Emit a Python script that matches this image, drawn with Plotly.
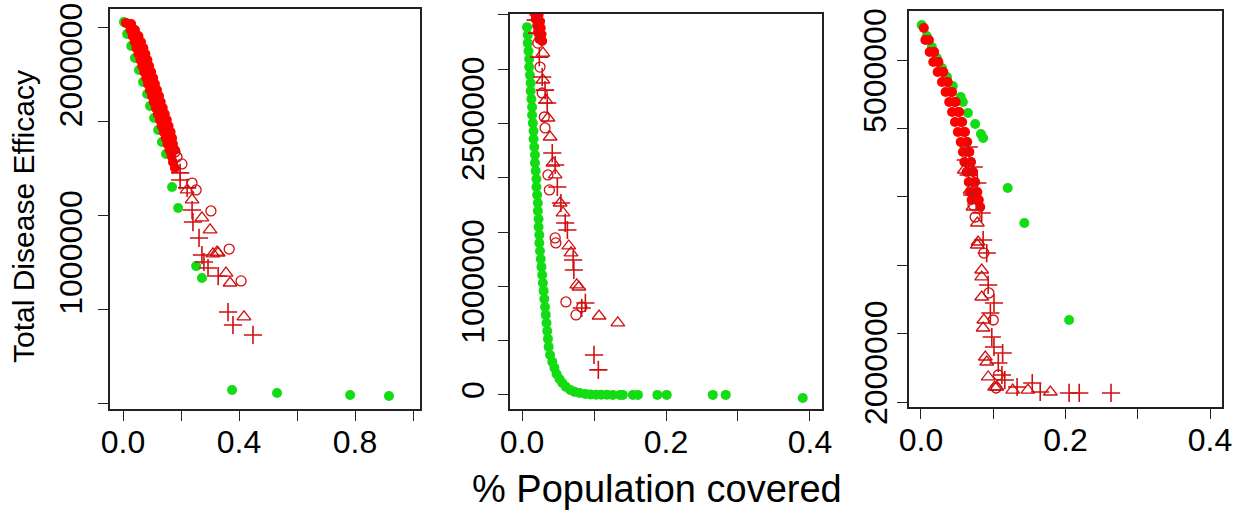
import plotly.graph_objects as go

# ---------------- Panel 1 data ----------------
p1_green_x = [0.003, 0.014, 0.028, 0.041, 0.055, 0.069, 0.083, 0.093, 0.107, 0.121, 0.134, 0.148,
              0.169, 0.190, 0.252, 0.272, 0.376, 0.531, 0.783, 0.917]
p1_green_y = [2532000, 2468000, 2404000, 2340000, 2276000, 2212000, 2148000, 2084000, 2020000, 1956000,
              1892000, 1828000, 1652000, 1540000, 1230000, 1167000, 569000, 553000, 543000, 537000]

p1_red_x = [0.010, 0.019, 0.026, 0.033, 0.040, 0.046, 0.053, 0.060, 0.066, 0.073, 0.080, 0.086, 0.093,
            0.100, 0.106, 0.113, 0.120, 0.127, 0.133, 0.140, 0.147, 0.153, 0.160, 0.167, 0.172, 0.179,
            0.028, 0.041, 0.053, 0.062, 0.070, 0.077, 0.084, 0.090, 0.097, 0.104, 0.110, 0.117, 0.124,
            0.130, 0.137, 0.144, 0.151, 0.157, 0.164, 0.169, 0.172, 0.179]
p1_red_y = [2527000, 2521000, 2489000, 2457000, 2425000, 2393000, 2361000, 2329000, 2297000, 2265000,
            2233000, 2201000, 2169000, 2137000, 2105000, 2073000, 2041000, 2009000, 1977000, 1945000,
            1913000, 1881000, 1849000, 1817000, 1785000, 1753000,
            2521000, 2489000, 2457000, 2425000, 2393000, 2361000, 2329000, 2297000, 2265000, 2233000,
            2201000, 2169000, 2137000, 2105000, 2073000, 2041000, 2009000, 1977000, 1945000, 1913000,
            1881000, 1849000]

p1_circ_x = [0.179, 0.186, 0.203, 0.238, 0.252, 0.303, 0.366, 0.407]
p1_circ_y = [1839000, 1812000, 1775000, 1673000, 1636000, 1524000, 1321000, 1151000]

p1_tri_x = [0.221, 0.238, 0.272, 0.300, 0.310, 0.324, 0.328, 0.355, 0.369, 0.417]
p1_tri_y = [1636000, 1583000, 1487000, 1423000, 1295000, 1305000, 1300000, 1193000, 1140000, 959000]

p1_cross_x = [0.197, 0.197, 0.221, 0.238, 0.241, 0.262, 0.272, 0.279, 0.293, 0.328, 0.362, 0.379, 0.448]
p1_cross_y = [1727000, 1689000, 1647000, 1529000, 1465000, 1380000, 1289000, 1252000, 1220000, 1177000,
              985000, 916000, 863000]

# ---------------- Panel 2 data ----------------
p2_green_x = [0.007, 0.008, 0.008, 0.009, 0.010, 0.010, 0.011, 0.012, 0.012, 0.013, 0.014, 0.014, 0.015,
              0.016, 0.016, 0.017, 0.018, 0.018, 0.019, 0.020, 0.020, 0.021, 0.022, 0.022, 0.023, 0.023,
              0.024, 0.024, 0.025, 0.026, 0.027, 0.028, 0.029, 0.030, 0.031, 0.032, 0.033, 0.034, 0.035,
              0.036, 0.037, 0.039, 0.042, 0.045, 0.048, 0.052, 0.056, 0.061, 0.067, 0.073, 0.080, 0.088,
              0.095, 0.103, 0.110, 0.118, 0.126, 0.136, 0.140, 0.154, 0.161, 0.188, 0.201, 0.265, 0.283, 0.390]
p2_green_y = [3388000, 3315000, 3241000, 3167000, 3094000, 3020000, 2946000, 2873000, 2799000, 2725000,
              2652000, 2578000, 2504000, 2431000, 2357000, 2284000, 2210000, 2136000, 2063000, 1989000,
              1915000, 1842000, 1768000, 1694000, 1621000, 1547000, 1473000, 1400000, 1326000, 1252000,
              1179000, 1105000, 1031000, 958000, 884000, 810000, 737000, 663000, 589000, 516000, 442000,
              368000, 304000, 249000, 193000, 147000, 110000, 74000, 46000, 28000, 18000, 9000, 4000,
              2000, 1000, 1000, 0, 0, 0, 0, 0, 0, 0, 0, 0, -28000]

p2_red_x = [0.015, 0.017, 0.019, 0.021, 0.022, 0.024, 0.021, 0.023, 0.025, 0.026, 0.027, 0.028]
p2_red_y = [3580000, 3520000, 3460000, 3400000, 3340000, 3280000, 3560000, 3500000, 3440000, 3380000,
            3320000, 3260000]

p2_circ_x = [0.022, 0.025, 0.028, 0.031, 0.032, 0.036, 0.038, 0.046, 0.047, 0.061, 0.075, 0.083]
p2_circ_y = [3241000, 3020000, 2781000, 2560000, 2459000, 2026000, 1888000, 1446000, 1400000, 856000,
             737000, 810000]

p2_tri_x = [0.029, 0.029, 0.033, 0.036, 0.039, 0.043, 0.046, 0.053, 0.057, 0.065, 0.068, 0.076, 0.079,
            0.107, 0.133]
p2_tri_y = [3149000, 2901000, 2716000, 2551000, 2376000, 2136000, 2026000, 1768000, 1676000, 1372000,
            1308000, 1013000, 994000, 727000, 663000]

p2_cross_x = [0.019, 0.021, 0.024, 0.028, 0.032, 0.035, 0.042, 0.046, 0.049, 0.054, 0.060, 0.063, 0.071,
              0.072, 0.088, 0.083, 0.100, 0.106]
p2_cross_y = [3453000, 3333000, 3112000, 2928000, 2808000, 2689000, 2228000, 2118000, 1915000, 1768000,
              1584000, 1519000, 1243000, 1151000, 847000, 801000, 368000, 230000]

# ---------------- Panel 3 data ----------------
p3_green_x = [0.001, 0.008, 0.015, 0.022, 0.029, 0.036, 0.044, 0.055, 0.058, 0.065, 0.075, 0.083, 0.086,
              0.120, 0.143, 0.205]
p3_green_y = [6512000, 6351000, 6190000, 6029000, 5883000, 5751000, 5620000, 5459000, 5386000, 5225000,
              5064000, 4918000, 4860000, 4129000, 3617000, 2199000]

p3_red_x = [0.004, 0.011, 0.018, 0.024, 0.031, 0.037, 0.043, 0.048, 0.053, 0.057, 0.061, 0.064, 0.067,
            0.069, 0.072, 0.074, 0.076, 0.078,
            0.006, 0.012, 0.017, 0.023, 0.029, 0.034, 0.039, 0.043, 0.047, 0.051, 0.055, 0.058, 0.060,
            0.063, 0.066, 0.068, 0.070,
            0.018, 0.024, 0.030, 0.036, 0.041, 0.046, 0.051, 0.055, 0.059, 0.063, 0.066, 0.069, 0.072,
            0.075, 0.078, 0.080, 0.082]
p3_red_y = [6468000, 6292000, 6117000, 5971000, 5825000, 5678000, 5532000, 5386000, 5240000, 5094000,
            4947000, 4801000, 4655000, 4509000, 4363000, 4216000, 4070000, 3953000,
            6292000, 6117000, 5971000, 5825000, 5678000, 5532000, 5386000, 5240000, 5094000, 4947000,
            4801000, 4655000, 4509000, 4363000, 4216000, 4070000, 3953000,
            6117000, 5971000, 5825000, 5678000, 5532000, 5386000, 5240000, 5094000, 4947000, 4801000,
            4655000, 4509000, 4363000, 4216000, 4070000, 3953000, 3850000]

p3_circ_x = [0.072, 0.075, 0.087, 0.094, 0.100, 0.107, 0.104]
p3_circ_y = [3880000, 3705000, 3178000, 2594000, 2199000, 1395000, 1205000]

p3_tri_x = [0.060, 0.068, 0.072, 0.078, 0.079, 0.078, 0.084, 0.084, 0.084, 0.087, 0.086, 0.089, 0.091,
            0.093, 0.102, 0.105, 0.127, 0.148, 0.179]
p3_tri_y = [4392000, 4099000, 3851000, 3617000, 3339000, 3295000, 2930000, 2828000, 2535000, 2199000,
            2082000, 1658000, 1585000, 1366000, 1219000, 1219000, 1175000, 1175000, 1146000]

p3_cross_x = [0.062, 0.066, 0.071, 0.066, 0.073, 0.078, 0.084, 0.086, 0.091, 0.093, 0.101, 0.096, 0.098,
              0.101, 0.113, 0.107, 0.112, 0.116, 0.133, 0.154, 0.165, 0.205, 0.219, 0.263]
p3_cross_y = [4538000, 4319000, 4026000, 4728000, 4436000, 4202000, 3763000, 3368000, 3178000, 2711000,
              2447000, 2301000, 1950000, 1804000, 1716000, 1570000, 1395000, 1322000, 1219000, 1278000,
              1146000, 1132000, 1132000, 1132000]

# tick values / labels
p1_xticks = [0.0, 0.2, 0.4, 0.6, 0.8, 1.0]
p1_xlabels = ["0.0", "", "0.4", "", "0.8", ""]
p23_xticks = [0.0, 0.1, 0.2, 0.3, 0.4]
p23_xlabels = ["0.0", "", "0.2", "", "0.4"]
p1_yticks = [500000, 1000000, 1500000, 2000000, 2500000]
p1_ylabels = ["", "1000000", "", "2000000", ""]
p2_yticks = [0, 500000, 1000000, 1500000, 2000000, 2500000, 3000000, 3500000]
p2_ylabels = ["0", "", "1000000", "", "", "2500000", "", ""]
p3_yticks = [1000000, 2000000, 3000000, 4000000, 5000000, 6000000]
p3_ylabels = ["", "", "", "", "5000000", ""]
p3_ylabel_low = [2000000]
p3_ylabel_low_text = ["2000000"]

GREEN = "#14dc14"
RED = "#ff0000"
DRED = "#d01010"
FONT = "Liberation Sans, Arial, sans-serif"

fig = go.Figure()

def add_panel(xa, ya, ya_top, gx, gy, rx, ry, cx, cy, tx, ty, px_, py_):
    fig.add_trace(go.Scatter(x=gx, y=gy, mode="markers", xaxis=xa, yaxis=ya,
                             marker=dict(color=GREEN, size=10, line=dict(width=0)), showlegend=False))
    fig.add_trace(go.Scatter(x=rx, y=ry, mode="markers", xaxis=xa, yaxis=ya,
                             marker=dict(color=RED, size=10, line=dict(width=0)), showlegend=False))
    fig.add_trace(go.Scatter(x=cx, y=cy, mode="markers", xaxis=xa, yaxis=ya,
                             marker=dict(symbol="circle-open", color=DRED, size=10, line=dict(width=1.3)),
                             showlegend=False))
    fig.add_trace(go.Scatter(x=tx, y=ty, mode="markers", xaxis=xa, yaxis=ya,
                             marker=dict(symbol="triangle-up-open", color=DRED, size=12, line=dict(width=1.3)),
                             showlegend=False))
    fig.add_trace(go.Scatter(x=px_, y=py_, mode="markers", xaxis=xa, yaxis=ya_top,
                             marker=dict(symbol="cross-thin-open", color=DRED, size=13, line=dict(width=1.6)),
                             showlegend=False))

add_panel("x", "y", "y", p1_green_x, p1_green_y, p1_red_x, p1_red_y, p1_circ_x, p1_circ_y,
          p1_tri_x, p1_tri_y, p1_cross_x, p1_cross_y)
add_panel("x2", "y2", "y2", p2_green_x, p2_green_y, p2_red_x, p2_red_y, p2_circ_x, p2_circ_y,
          p2_tri_x, p2_tri_y, p2_cross_x, p2_cross_y)
add_panel("x3", "y3", "y4", p3_green_x, p3_green_y, p3_red_x, p3_red_y, p3_circ_x, p3_circ_y,
          p3_tri_x, p3_tri_y, p3_cross_x, p3_cross_y)

W, H = 1244, 512
def xd(a, b):
    return [a / W, b / W]
def yd(top, bottom):
    return [1 - bottom / H, 1 - top / H]

axcommon = dict(showgrid=False, zeroline=False, showline=True, mirror=True, linecolor="#222",
                linewidth=1.5, ticks="outside", ticklen=10, tickwidth=1.3, tickcolor="#222",
                automargin=False, tickfont=dict(family=FONT, size=32, color="black"))

P3_RANGE = [926900, 6716400]

fig.update_layout(
    width=W, height=H, margin=dict(l=0, r=0, t=0, b=0),
    paper_bgcolor="white", plot_bgcolor="white",
    xaxis=dict(domain=xd(110, 420), range=[-0.045, 1.024], tickvals=p1_xticks, ticktext=p1_xlabels,
               ticklabelstandoff=-6, anchor="y", **axcommon),
    yaxis=dict(domain=yd(9, 409), range=[468000, 2601000], tickvals=p1_yticks, ticktext=p1_ylabels,
               tickangle=-90, ticklabelshift=-52, ticklabelstandoff=3, anchor="x", **axcommon),
    xaxis2=dict(domain=xd(510, 822), range=[-0.0167, 0.4167], tickvals=p23_xticks, ticktext=p23_xlabels,
                ticklabelstandoff=-6, anchor="y2", **axcommon),
    yaxis2=dict(domain=yd(14, 409), range=[-130000, 3509000], tickvals=p2_yticks, ticktext=p2_ylabels,
                tickangle=-90, ticklabelstandoff=1, anchor="x2", **axcommon),
    xaxis3=dict(domain=xd(909, 1222), range=[-0.0166, 0.4166], tickvals=p23_xticks, ticktext=p23_xlabels,
                ticklabelstandoff=-6, anchor="y3", **axcommon),
    yaxis3=dict(domain=yd(11, 407), range=P3_RANGE, tickvals=p3_yticks, ticktext=p3_ylabels,
                tickangle=-90, ticklabelshift=-53, ticklabelstandoff=-2, anchor="x3", **axcommon),
    yaxis4=dict(overlaying="y3", anchor="x3", side="left", range=P3_RANGE, showgrid=False, zeroline=False,
                showline=False, ticks="outside", ticklen=10, tickcolor="rgba(0,0,0,0)", automargin=False,
                tickvals=p3_ylabel_low, ticktext=p3_ylabel_low_text, tickangle=-90, ticklabelshift=34,
                ticklabelstandoff=-2, tickfont=dict(family=FONT, size=32, color="black")),
)

fig.add_annotation(text="Total Disease Efficacy", xref="paper", yref="paper", x=23 / W, y=1 - 217 / H,
                   textangle=-90, showarrow=False, xanchor="center", yanchor="middle",
                   font=dict(family=FONT, size=30, color="black"))
fig.add_annotation(text="% Population covered", xref="paper", yref="paper", x=657 / W, y=1 - 489 / H,
                   showarrow=False, xanchor="center", yanchor="middle",
                   font=dict(family=FONT, size=38, color="black"))

fig.write_html("out.html")
